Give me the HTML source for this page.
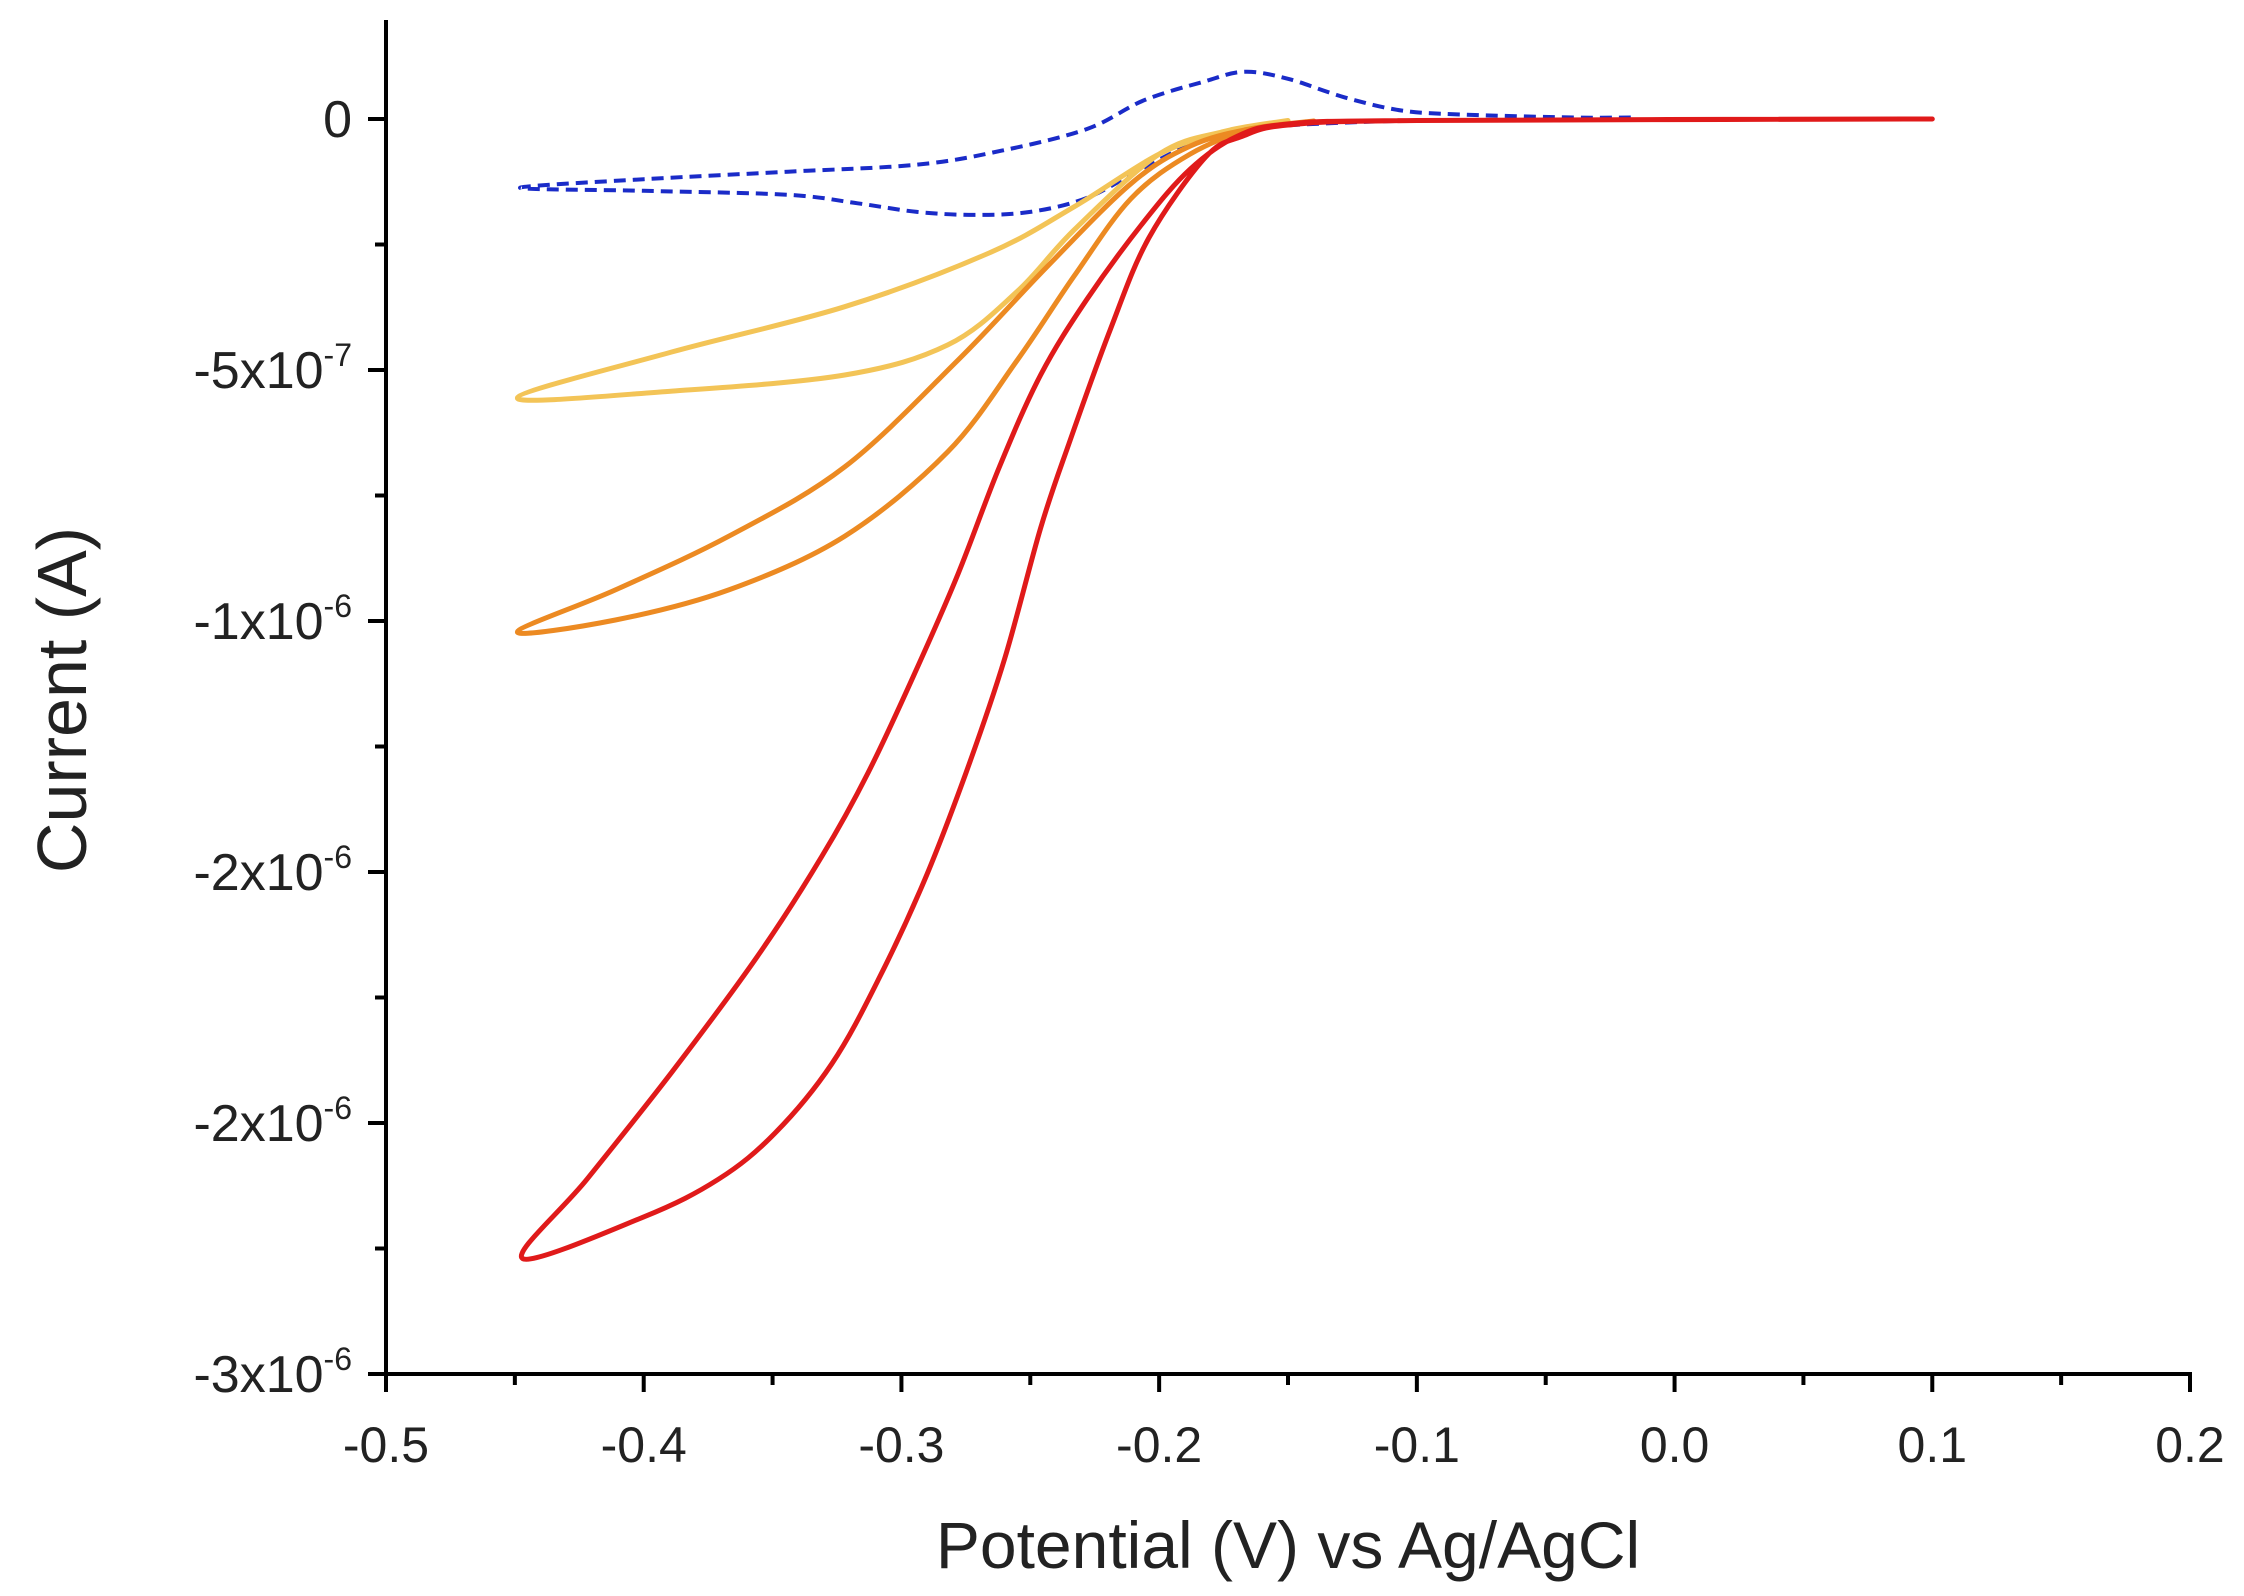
<!DOCTYPE html>
<html><head><meta charset="utf-8"><style>
html,body{margin:0;padding:0;background:#fff;}
svg{display:block;font-family:"Liberation Sans",Arial,sans-serif;}
</style></head><body>
<svg id="chart" width="2244" height="1596" viewBox="0 0 2244 1596">
<g id="axes"></g>
<g id="series"></g>
<text x="1288" y="1568" font-size="66" text-anchor="middle" fill="#222">Potential (V) vs Ag/AgCl</text>
<text transform="translate(86,700) rotate(-90)" font-size="70" text-anchor="middle" fill="#222">Current (A)</text>
</svg>
<script>
const xTicks=[-0.5,-0.4,-0.3,-0.2,-0.1,0.0,0.1,0.2];
const xTickLabels=["-0.5","-0.4","-0.3","-0.2","-0.1","0.0","0.1","0.2"];
const yTicks=[0,-0.5,-1.0,-1.5,-2.0,-2.5];
const yTickMant=["0","-5x10","-1x10","-2x10","-2x10","-3x10"];
const yTickExp=["","-7","-6","-6","-6","-6"];
const redX=[0.1,-0.1,-0.15,-0.168,-0.182,-0.204,-0.219,-0.235,-0.246,-0.26,-0.275,-0.291,-0.309,-0.327,-0.349,-0.371,-0.4,-0.447,-0.422,-0.389,-0.356,-0.331,-0.313,-0.295,-0.278,-0.262,-0.246,-0.228,-0.206,-0.188,-0.17,-0.15,-0.1,0.1];
const redY=[0,-0.003,-0.012,-0.035,-0.076,-0.237,-0.42,-0.647,-0.815,-1.076,-1.303,-1.516,-1.715,-1.882,-2.02,-2.112,-2.187,-2.27,-2.112,-1.898,-1.669,-1.47,-1.303,-1.106,-0.906,-0.693,-0.51,-0.359,-0.205,-0.1,-0.035,-0.01,-0.003,0];
const orangeX=[-0.14,-0.165,-0.188,-0.211,-0.244,-0.278,-0.322,-0.367,-0.411,-0.449,-0.411,-0.367,-0.322,-0.282,-0.255,-0.233,-0.211,-0.188,-0.165,-0.14];
const orangeY=[-0.004,-0.02,-0.054,-0.129,-0.297,-0.48,-0.693,-0.831,-0.938,-1.022,-0.998,-0.938,-0.831,-0.663,-0.48,-0.313,-0.159,-0.07,-0.022,-0.004];
const yellowX=[-0.15,-0.175,-0.2,-0.233,-0.266,-0.322,-0.389,-0.449,-0.389,-0.322,-0.282,-0.255,-0.233,-0.2,-0.175,-0.15];
const yellowY=[-0.003,-0.025,-0.07,-0.175,-0.267,-0.374,-0.464,-0.556,-0.542,-0.51,-0.45,-0.343,-0.221,-0.07,-0.025,-0.003];
const blueX=[-0.017,-0.039,-0.083,-0.106,-0.128,-0.15,-0.167,-0.183,-0.206,-0.228,-0.261,-0.294,-0.344,-0.4,-0.448,-0.4,-0.344,-0.317,-0.294,-0.272,-0.25,-0.228,-0.206,-0.183,-0.161,-0.122,-0.094];
const blueY=[0.003,0.003,0.009,0.017,0.043,0.08,0.094,0.074,0.037,-0.02,-0.063,-0.091,-0.105,-0.12,-0.137,-0.143,-0.151,-0.168,-0.185,-0.191,-0.185,-0.157,-0.097,-0.04,-0.017,-0.006,-0.003];

const X0=386,X1=2190,Y0=119,Y1=1374;
const sx=v=>X0+(v+0.5)/0.7*(X1-X0);
const sy=v=>Y0+(-v)/2.5*(Y1-Y0);
const NS="http://www.w3.org/2000/svg";
function mk(tag,attrs,parent){const e=document.createElementNS(NS,tag);for(const k in attrs)e.setAttribute(k,attrs[k]);parent.appendChild(e);return e;}
const axes=document.getElementById('axes');
const L=mk('line',{x1:X0,y1:20,x2:X0,y2:Y1+2,stroke:'#000','stroke-width':4},axes);


const B=mk('line',{x1:X0-2,y1:Y1,x2:X1+2,y2:Y1,stroke:'#000','stroke-width':4},axes);


xTicks.forEach((t,i)=>{
  const x=sx(t);
  const tk=mk('line',{x1:x,y1:Y1,x2:x,y2:Y1+18,stroke:'#000','stroke-width':4},axes);
  
  
  if(i<xTicks.length-1){const m=mk('line',{x1:sx(t+0.05),y1:Y1,x2:sx(t+0.05),y2:Y1+11,stroke:'#000','stroke-width':4},axes);
  
  }
  const tx=mk('text',{x:x,y:1462,'font-size':50,'text-anchor':'middle',fill:'#222'},axes);
  tx.textContent=xTickLabels[i];
  
  
});
yTicks.forEach((t,i)=>{
  const y=sy(t);
  const tk=mk('line',{x1:X0-18,y1:y,x2:X0,y2:y,stroke:'#000','stroke-width':4},axes);
  
  
  const m=mk('line',{x1:X0-11,y1:sy(t+0.25),x2:X0,y2:sy(t+0.25),stroke:'#000','stroke-width':4},axes);
  
  
  const tx=mk('text',{x:352,y:y+18,'font-size':52,'text-anchor':'end',fill:'#222'},axes);
  
  
  tx.textContent=yTickMant[i];
  if(yTickExp[i]){const ts=mk('tspan',{dy:-22,'font-size':32},tx);ts.textContent=yTickExp[i];}
});
const ser=document.getElementById('series');
function smooth(P){
  let d='M'+P[0][0].toFixed(1)+','+P[0][1].toFixed(1);
  for(let i=0;i<P.length-1;i++){
    const p0=P[Math.max(0,i-1)],p1=P[i],p2=P[i+1],p3=P[Math.min(P.length-1,i+2)];
    const c1=[p1[0]+(p2[0]-p0[0])/6,p1[1]+(p2[1]-p0[1])/6];
    const c2=[p2[0]-(p3[0]-p1[0])/6,p2[1]-(p3[1]-p1[1])/6];
    d+=' C'+c1[0].toFixed(1)+','+c1[1].toFixed(1)+' '+c2[0].toFixed(1)+','+c2[1].toFixed(1)+' '+p2[0].toFixed(1)+','+p2[1].toFixed(1);
  }
  return d;
}
function draw(xs,ys,color,name,dash){
  const P=xs.map((v,i)=>[sx(v),sy(ys[i])]);
  const p=mk('path',{d:smooth(P),fill:'none',stroke:color,'stroke-width':dash?4:5,'stroke-linejoin':'round','stroke-linecap':'round'},ser);
  if(dash){p.setAttribute('stroke-dasharray',dash);p.setAttribute('stroke-linecap','butt');}
  
  
}
draw(blueX,blueY,'#1a2bc8','blue-dashed-cv','12,7');
draw(yellowX,yellowY,'#f3c457','yellow-cv',null);
draw(orangeX,orangeY,'#ec8a22','orange-cv',null);
draw(redX,redY,'#e01a1a','red-cv',null);
</script>
</body></html>
